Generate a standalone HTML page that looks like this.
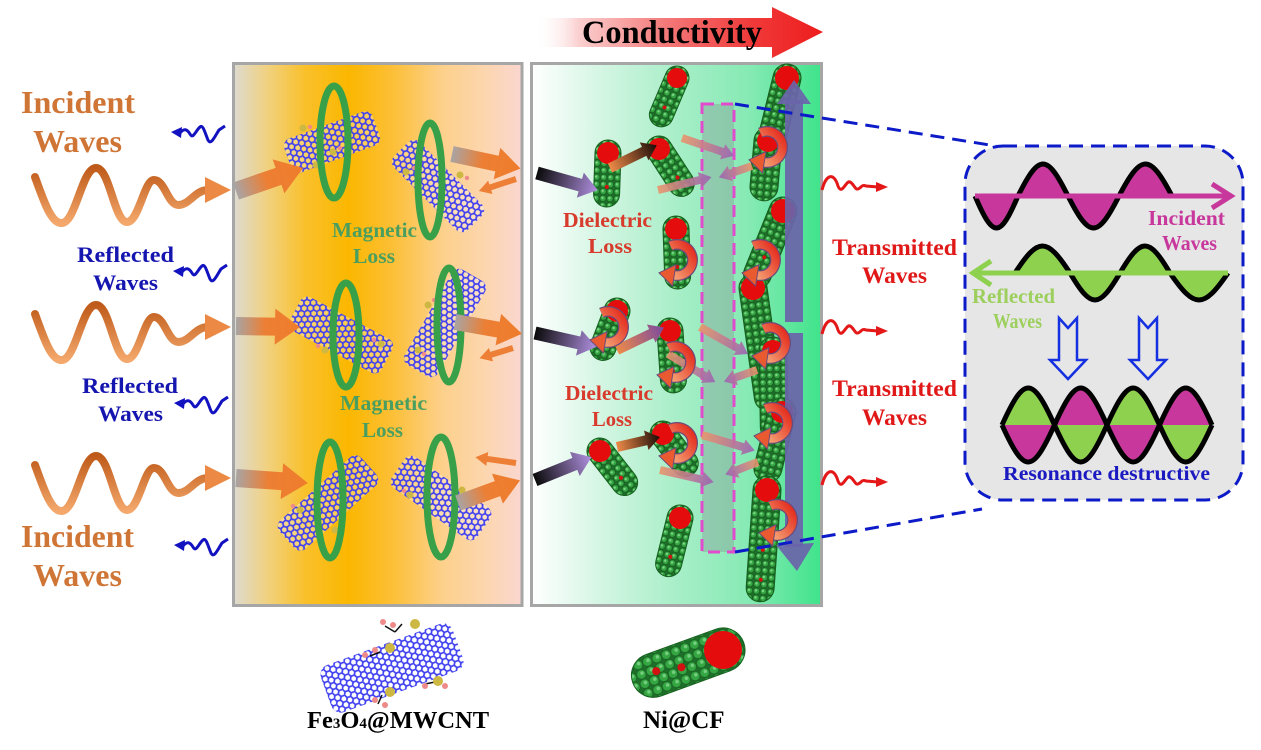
<!DOCTYPE html>
<html><head><meta charset="utf-8"><style>
html,body{margin:0;padding:0;background:#fff;width:1261px;height:750px;overflow:hidden}
svg{display:block}
text{font-family:"Liberation Serif","Times New Roman",serif;font-weight:bold}
</style></head><body>
<svg width="1261" height="750" viewBox="0 0 1261 750" xmlns="http://www.w3.org/2000/svg">
<defs>
<linearGradient id="gL" x1="0" x2="1" y1="0" y2="0">
<stop offset="0" stop-color="#dddad0"/><stop offset="0.12" stop-color="#f1d17e"/><stop offset="0.25" stop-color="#f9c02a"/><stop offset="0.4" stop-color="#fbb700"/><stop offset="0.55" stop-color="#fcbf36"/><stop offset="0.72" stop-color="#fdd08a"/><stop offset="0.88" stop-color="#fcd6b0"/><stop offset="1" stop-color="#fad6d0"/>
</linearGradient>
<linearGradient id="gR" x1="0" x2="1" y1="0" y2="0">
<stop offset="0" stop-color="#ffffff"/><stop offset="0.25" stop-color="#d2f5e2"/><stop offset="0.5" stop-color="#a8eec8"/><stop offset="0.75" stop-color="#86eab4"/><stop offset="0.9" stop-color="#5ce69c"/><stop offset="1" stop-color="#3fe38a"/>
</linearGradient>
<linearGradient id="gCond" gradientUnits="userSpaceOnUse" x1="535" y1="0" x2="823" y2="0">
<stop offset="0" stop-color="#ffffff" stop-opacity="0"/><stop offset="0.15" stop-color="#fbd0d0"/><stop offset="0.45" stop-color="#f47a7a"/><stop offset="0.75" stop-color="#f03a3a"/><stop offset="1" stop-color="#ee1c1c"/>
</linearGradient>
<linearGradient id="gWave" x1="0" y1="0" x2="0" y2="1"><stop offset="0" stop-color="#bf5b1a"/><stop offset="1" stop-color="#f4a86c"/></linearGradient>
<linearGradient id="gOr" x1="0" x2="1"><stop offset="0" stop-color="#a8a4a4"/><stop offset="0.45" stop-color="#ec7f34"/><stop offset="1" stop-color="#ef7c2c"/></linearGradient>
<linearGradient id="gPur" x1="0" x2="1"><stop offset="0" stop-color="#0a0a0a"/><stop offset="1" stop-color="#b090e0"/></linearGradient>
<linearGradient id="gBrn" x1="0" x2="1"><stop offset="0" stop-color="#ee8a48"/><stop offset="1" stop-color="#1a0c08"/></linearGradient>
<linearGradient id="gBrnP" x1="0" x2="1"><stop offset="0" stop-color="#ee8a48"/><stop offset="1" stop-color="#7a4aa0"/></linearGradient>
<linearGradient id="gPk" x1="0" x2="1"><stop offset="0" stop-color="#e9956a"/><stop offset="1" stop-color="#9a62b4"/></linearGradient>
<linearGradient id="gSw" x1="1" y1="0" x2="0" y2="1"><stop offset="0" stop-color="#e3261a"/><stop offset="1" stop-color="#f5a878"/></linearGradient>
<pattern id="hex" width="10.8" height="6.24" patternUnits="userSpaceOnUse">
<path d="M0,3.12 L1.8,0 L5.4,0 L7.2,3.12 L5.4,6.24 L1.8,6.24 Z M7.2,3.12 L10.8,3.12" fill="none" stroke="#3f3ff0" stroke-width="1.7"/>
</pattern>
<pattern id="balls" width="7" height="7" patternUnits="userSpaceOnUse">
<rect width="7" height="7" fill="#1d6e28"/><circle cx="3.5" cy="3.5" r="3.2" fill="#34a642" stroke="#175a20" stroke-width="0.7"/><circle cx="3" cy="3" r="1.2" fill="#7fd588"/>
</pattern>
<pattern id="balls2" width="10" height="10" patternUnits="userSpaceOnUse">
<rect width="10" height="10" fill="#1d6e28"/><circle cx="5" cy="5" r="4.7" fill="#34a642" stroke="#175a20" stroke-width="0.6"/><circle cx="4" cy="4" r="1.8" fill="#76cf80"/>
</pattern>
<g id="sw">
<path d="M-5.5,-11.8 A13,13 0 1 1 -2.3,12.8" stroke="#6a4a7a" stroke-width="9" fill="none"/>
<path d="M-5.5,-11.8 A13,13 0 1 1 -2.3,12.8" stroke="url(#gSw)" stroke-width="7" fill="none"/>
<polygon points="-15,10.7 -0.9,3.9 -3.7,21.7" fill="#ea5a30" stroke="#6a4a7a" stroke-width="0.8"/>
</g>
<g id="bw">
<polygon points="0,0 11,-5 10,6" fill="#1212c0"/>
<path d="M9,1 C13,-4 16,-3 19,2 C22,8 25,-2 29,-5 C32,-8 34,1 37,8 C40,14 44,4 48,-2 L54,-6" stroke="#1212c0" stroke-width="3" fill="none"/>
</g>
<g id="rw">
<path d="M0,3 C4,-13 12,-15 16,-1 C20,9 24,-7 28,-5 C32,-3 33,3 36,2 C39,1 40,-3 44,-1 L56,0" stroke="#e41818" stroke-width="3" fill="none"/>
<polygon points="54,-5 66,0 54,5" fill="#e41818"/>
</g>
<g id="ow">
<path d="M35,177 C45,205 52,224 62,223 C76,222 82,168 96,168 C110,168 114,222 127,222 C139,222 144,180 154,180 C165,180 168,206 179,205 C190,204 195,191 207,190" stroke="url(#gWave)" stroke-width="8" fill="none" stroke-linecap="round"/>
<polygon points="205,177 231,190 205,203" fill="#ec8a45"/>
</g>
</defs>

<!-- Conductivity arrow -->
<polygon points="535,18 772,18 772,7 823,32 772,58 772,47 535,47" fill="url(#gCond)"/>
<text x="582" y="43" font-size="33" fill="#000" textLength="180" lengthAdjust="spacingAndGlyphs">Conductivity</text>

<!-- Panels -->
<rect x="233.5" y="63.5" width="288.5" height="542" fill="url(#gL)" stroke="#a6a6a6" stroke-width="3"/>
<rect x="531.5" y="63.5" width="290" height="542" fill="url(#gR)" stroke="#a6a6a6" stroke-width="3"/>

<!-- Left texts -->
<text x="21" y="113" font-size="32" fill="#cf7636" textLength="114" lengthAdjust="spacingAndGlyphs">Incident</text>
<text x="33" y="152" font-size="32" fill="#cf7636" textLength="89" lengthAdjust="spacingAndGlyphs">Waves</text>
<text x="77" y="262" font-size="22" fill="#1515b0" textLength="97" lengthAdjust="spacingAndGlyphs">Reflected</text>
<text x="93" y="290" font-size="22" fill="#1515b0" textLength="65" lengthAdjust="spacingAndGlyphs">Waves</text>
<text x="82" y="393" font-size="22" fill="#1515b0" textLength="96" lengthAdjust="spacingAndGlyphs">Reflected</text>
<text x="98" y="421" font-size="22" fill="#1515b0" textLength="65" lengthAdjust="spacingAndGlyphs">Waves</text>
<text x="21" y="547" font-size="32" fill="#cf7636" textLength="113" lengthAdjust="spacingAndGlyphs">Incident</text>
<text x="33" y="586" font-size="32" fill="#cf7636" textLength="89" lengthAdjust="spacingAndGlyphs">Waves</text>

<!-- Orange waves -->
<use href="#ow"/>
<use href="#ow" transform="translate(0,137)"/>
<use href="#ow" transform="translate(0,288)"/>
<!-- Blue small waves -->
<use href="#bw" transform="translate(171,132)"/>
<use href="#bw" transform="translate(173,271)"/>
<use href="#bw" transform="translate(174,403)"/>
<use href="#bw" transform="translate(174,545)"/>

<!-- Nanotubes left panel -->
<g transform="translate(332,142) rotate(-20)"><rect x="-47" y="-18" width="94" height="36" rx="8" fill="#ffffff" fill-opacity="0.3"/><rect x="-47" y="-18" width="94" height="36" rx="8" fill="url(#hex)"/></g>
<g transform="translate(438,186) rotate(45)"><rect x="-52" y="-18" width="104" height="36" rx="8" fill="#ffffff" fill-opacity="0.3"/><rect x="-52" y="-18" width="104" height="36" rx="8" fill="url(#hex)"/></g>
<g transform="translate(341,335) rotate(28)"><rect x="-52" y="-19" width="104" height="38" rx="8" fill="#ffffff" fill-opacity="0.3"/><rect x="-52" y="-19" width="104" height="38" rx="8" fill="url(#hex)"/></g>
<g transform="translate(445,323) rotate(-60)"><rect x="-55" y="-19" width="110" height="38" rx="8" fill="#ffffff" fill-opacity="0.3"/><rect x="-55" y="-19" width="110" height="38" rx="8" fill="url(#hex)"/></g>
<g transform="translate(328,503) rotate(-42)"><rect x="-55" y="-19" width="110" height="38" rx="8" fill="#ffffff" fill-opacity="0.3"/><rect x="-55" y="-19" width="110" height="38" rx="8" fill="url(#hex)"/></g>
<g transform="translate(441,498) rotate(35)"><rect x="-52" y="-19" width="104" height="38" rx="8" fill="#ffffff" fill-opacity="0.3"/><rect x="-52" y="-19" width="104" height="38" rx="8" fill="url(#hex)"/></g>
<!-- decorations -->
<g fill="#cdb843">
<circle cx="303" cy="128" r="3.5"/><circle cx="333" cy="152" r="3.5"/><circle cx="316" cy="165" r="3.5"/>
<circle cx="406" cy="172" r="3.5"/><circle cx="460" cy="175" r="3.5"/>
<circle cx="381" cy="344" r="3.5"/><circle cx="325" cy="350" r="3.5"/>
<circle cx="428" cy="305" r="3.5"/><circle cx="418" cy="350" r="3.5"/>
<circle cx="300" cy="510" r="3.5"/><circle cx="335" cy="530" r="3.5"/>
<circle cx="410" cy="495" r="3.5"/><circle cx="462" cy="490" r="3.5"/>
</g>
<g fill="#ef8a8a">
<circle cx="310" cy="127" r="2.2"/><circle cx="340" cy="148" r="2.2"/><circle cx="323" cy="166" r="2.2"/><circle cx="414" cy="168" r="2.2"/><circle cx="467" cy="178" r="2.2"/>
<circle cx="374" cy="340" r="2.2"/><circle cx="318" cy="346" r="2.2"/><circle cx="434" cy="300" r="2.2"/><circle cx="424" cy="354" r="2.2"/>
<circle cx="293" cy="506" r="2.2"/><circle cx="342" cy="527" r="2.2"/><circle cx="404" cy="491" r="2.2"/><circle cx="468" cy="494" r="2.2"/>
</g>
<!-- rings -->
<g fill="none" stroke="#38a048" stroke-width="7">
<ellipse cx="334" cy="142" rx="14" ry="56"/>
<ellipse cx="430" cy="180" rx="12" ry="57"/>
<ellipse cx="346" cy="335" rx="13" ry="52"/>
<ellipse cx="449" cy="325" rx="12" ry="57"/>
<ellipse cx="330" cy="500" rx="13" ry="58"/>
<ellipse cx="441" cy="497" rx="14" ry="60"/>
</g>

<!-- Left panel arrows -->
<polygon transform="translate(236,191) rotate(-19)" points="0,-9 45,-9 45,-18 71,0 45,18 45,9 0,9" fill="url(#gOr)"/>
<polygon transform="translate(452,154) rotate(12)" points="0,-8 46,-8 46,-16 70,0 46,16 46,8 0,8" fill="url(#gOr)"/>
<polygon transform="translate(516,179) rotate(162)" points="0,-3 27,-3 27,-7 39,0 27,7 27,3 0,3" fill="#ee7f36"/>
<polygon transform="translate(236,326) rotate(1)" points="0,-9 39,-9 39,-18 64,0 39,18 39,9 0,9" fill="url(#gOr)"/>
<polygon transform="translate(455,322) rotate(10)" points="0,-8 44,-8 44,-16 68,0 44,16 44,8 0,8" fill="url(#gOr)"/>
<polygon transform="translate(513,348) rotate(163)" points="0,-3 23,-3 23,-7 35,0 23,7 23,3 0,3" fill="#ee7f36"/>
<polygon transform="translate(236,478) rotate(4)" points="0,-9 46,-9 46,-18 72,0 46,18 46,9 0,9" fill="url(#gOr)"/>
<polygon transform="translate(458,503) rotate(-20)" points="0,-8 42,-8 42,-16 66,0 42,16 42,8 0,8" fill="url(#gOr)"/>
<polygon transform="translate(516,463) rotate(188)" points="0,-3 29,-3 29,-7 41,0 29,7 29,3 0,3" fill="#ee7f36"/>

<text x="332" y="237" font-size="21" fill="#4a9f60" textLength="85" lengthAdjust="spacingAndGlyphs">Magnetic</text>
<text x="353" y="263" font-size="21" fill="#4a9f60" textLength="42" lengthAdjust="spacingAndGlyphs">Loss</text>
<text x="340" y="410" font-size="21" fill="#4a9f60" textLength="87" lengthAdjust="spacingAndGlyphs">Magnetic</text>
<text x="362" y="437" font-size="21" fill="#4a9f60" textLength="41" lengthAdjust="spacingAndGlyphs">Loss</text>

<!-- Rods right panel -->
<g stroke="#17601f" stroke-width="1">
<g transform="translate(677,78) rotate(23)"><rect x="-12" y="-12" width="24" height="64" rx="12" fill="url(#balls)"/><circle r="10" fill="#e40c0c" stroke="none"/><circle cy="32" r="2" fill="#d31111" stroke="none"/></g>
<g transform="translate(608,153) rotate(2)"><rect x="-13" y="-13" width="26" height="67" rx="13" fill="url(#balls)"/><circle r="11" fill="#e40c0c" stroke="none"/><circle cy="34" r="2" fill="#d31111" stroke="none"/></g>
<g transform="translate(659,149) rotate(-33)"><rect x="-13" y="-13" width="26" height="67" rx="13" fill="url(#balls)"/><circle r="11" fill="#e40c0c" stroke="none"/><circle cy="34" r="2" fill="#d31111" stroke="none"/></g>
<g transform="translate(676,229) rotate(-2)"><rect x="-13" y="-13" width="26" height="73" rx="13" fill="url(#balls)"/><circle r="11" fill="#e40c0c" stroke="none"/><circle cy="38" r="2" fill="#d31111" stroke="none"/></g>
<g transform="translate(617,311) rotate(21)"><rect x="-13" y="-13" width="26" height="65" rx="13" fill="url(#balls)"/><circle r="11" fill="#e40c0c" stroke="none"/><circle cy="34" r="2" fill="#d31111" stroke="none"/></g>
<g transform="translate(670,331) rotate(-4)"><rect x="-13" y="-13" width="26" height="75" rx="13" fill="url(#balls)"/><circle r="11" fill="#e40c0c" stroke="none"/><circle cy="40" r="2" fill="#d31111" stroke="none"/></g>
<g transform="translate(663,434) rotate(-37)"><rect x="-13" y="-13" width="26" height="63" rx="13" fill="url(#balls)"/><circle r="11" fill="#e40c0c" stroke="none"/><circle cy="32" r="2" fill="#d31111" stroke="none"/></g>
<g transform="translate(600,451) rotate(-38)"><rect x="-13" y="-13" width="26" height="66" rx="13" fill="url(#balls)"/><circle r="11" fill="#e40c0c" stroke="none"/><circle cy="34" r="2" fill="#d31111" stroke="none"/></g>
<g transform="translate(680,518) rotate(14)"><rect x="-13" y="-13" width="26" height="73" rx="13" fill="url(#balls)"/><circle r="11" fill="#e40c0c" stroke="none"/><circle cy="40" r="2" fill="#d31111" stroke="none"/></g>
<g transform="translate(787,78) rotate(14)"><rect x="-14" y="-14" width="28" height="118" rx="14" fill="url(#balls)"/><circle r="12" fill="#e40c0c" stroke="none"/><circle cy="60" r="2" fill="#d31111" stroke="none"/></g>
<g transform="translate(768,141) rotate(5)"><rect x="-14" y="-14" width="28" height="74" rx="14" fill="url(#balls)"/><circle r="11" fill="#e40c0c" stroke="none"/></g>
<g transform="translate(783,211) rotate(22)"><rect x="-14" y="-14" width="28" height="96" rx="14" fill="url(#balls)"/><circle r="12" fill="#e40c0c" stroke="none"/><circle cy="50" r="2" fill="#d31111" stroke="none"/></g>
<g transform="translate(753,288) rotate(-8)"><rect x="-14" y="-14" width="28" height="138" rx="14" fill="url(#balls)"/><circle r="12" fill="#e40c0c" stroke="none"/><circle cy="70" r="2" fill="#d31111" stroke="none"/></g>
<g transform="translate(773,351) rotate(-1)"><rect x="-14" y="-14" width="28" height="104" rx="14" fill="url(#balls)"/><circle r="11" fill="#e40c0c" stroke="none"/></g>
<g transform="translate(782,412) rotate(14)"><rect x="-14" y="-14" width="28" height="86" rx="14" fill="url(#balls)"/><circle r="11" fill="#e40c0c" stroke="none"/></g>
<g transform="translate(767,490) rotate(4)"><rect x="-14" y="-14" width="28" height="126" rx="14" fill="url(#balls)"/><circle r="12" fill="#e40c0c" stroke="none"/><circle cy="60" r="2" fill="#d31111" stroke="none"/><circle cy="90" r="2" fill="#d31111" stroke="none"/></g>
</g>

<!-- Pink dashed strip -->
<rect x="702" y="104" width="32" height="448" fill="#82828c" fill-opacity="0.32" stroke="#e04ccc" stroke-width="3" stroke-dasharray="12 7"/>

<!-- Purple vertical arrow -->
<g fill="#6a64aa" fill-opacity="0.92">
<rect x="785" y="100" width="18" height="222"/>
<polygon points="777,104 794,80 811,104"/>
<rect x="785" y="333" width="18" height="214"/>
<polygon points="776,545 797,571 814,543"/>
</g>

<!-- Right panel arrows -->
<polygon transform="translate(537,173) rotate(15.6)" points="0,-6.5 45,-6.5 45,-13 63,0 45,13 45,6.5 0,6.5" fill="url(#gPur)"/>
<polygon transform="translate(535,333) rotate(12.7)" points="0,-6.5 45,-6.5 45,-13 63,0 45,13 45,6.5 0,6.5" fill="url(#gPur)"/>
<polygon transform="translate(535,480) rotate(-22)" points="0,-6.5 43,-6.5 43,-13 61,0 43,13 43,6.5 0,6.5" fill="url(#gPur)"/>
<polygon transform="translate(610,168) rotate(-26)" points="0,-5 38,-5 38,-10 52,0 38,10 38,5 0,5" fill="url(#gBrn)"/>
<polygon transform="translate(617,350) rotate(-25.6)" points="0,-5 38,-5 38,-10 52,0 38,10 38,5 0,5" fill="url(#gBrnP)"/>
<polygon transform="translate(617,447) rotate(-13)" points="0,-5 30,-5 30,-10 44,0 30,10 30,5 0,5" fill="url(#gBrn)"/>
<g fill="url(#gPk)" fill-opacity="0.9">
<polygon transform="translate(682,138) rotate(18.8)" points="0,-4 43,-4 43,-8 55,0 43,8 43,4 0,4"/>
<polygon transform="translate(658,190) rotate(-13.5)" points="0,-4 43,-4 43,-8 55,0 43,8 43,4 0,4"/>
<polygon transform="translate(752,166) rotate(161)" points="0,-4 23,-4 23,-8 35,0 23,8 23,4 0,4"/>
<polygon transform="translate(700,327) rotate(29.4)" points="0,-4 43,-4 43,-8 55,0 43,8 43,4 0,4"/>
<polygon transform="translate(668,354) rotate(30.8)" points="0,-4 43,-4 43,-8 55,0 43,8 43,4 0,4"/>
<polygon transform="translate(757,370) rotate(160.6)" points="0,-4 23,-4 23,-8 35,0 23,8 23,4 0,4"/>
<polygon transform="translate(702,435) rotate(16.4)" points="0,-4 43,-4 43,-8 55,0 43,8 43,4 0,4"/>
<polygon transform="translate(660,470) rotate(12.8)" points="0,-4 43,-4 43,-8 55,0 43,8 43,4 0,4"/>
<polygon transform="translate(758,462) rotate(159)" points="0,-4 23,-4 23,-8 35,0 23,8 23,4 0,4"/>
</g>

<!-- Swirls -->
<use href="#sw" transform="translate(767,147) scale(1.2)"/>
<use href="#sw" transform="translate(677,260) scale(1.2)"/>
<use href="#sw" transform="translate(760,260) scale(1.2)"/>
<use href="#sw" transform="translate(608,327) scale(1.2)"/>
<use href="#sw" transform="translate(675,362) scale(1.2)"/>
<use href="#sw" transform="translate(770,343) scale(1.2)"/>
<use href="#sw" transform="translate(677,443) scale(1.2)"/>
<use href="#sw" transform="translate(772,423) scale(1.2)"/>
<use href="#sw" transform="translate(777,520) scale(1.2)"/>

<text x="563" y="227" font-size="21" fill="#d83a2c" textLength="89" lengthAdjust="spacingAndGlyphs">Dielectric</text>
<text x="588" y="253" font-size="21" fill="#d83a2c" textLength="44" lengthAdjust="spacingAndGlyphs">Loss</text>
<text x="565" y="400" font-size="21" fill="#d83a2c" textLength="88" lengthAdjust="spacingAndGlyphs">Dielectric</text>
<text x="592" y="426" font-size="21" fill="#d83a2c" textLength="40" lengthAdjust="spacingAndGlyphs">Loss</text>

<!-- Transmitted -->
<use href="#rw" transform="translate(822,187)"/>
<use href="#rw" transform="translate(822,331)"/>
<use href="#rw" transform="translate(822,482)"/>
<text x="832" y="255" font-size="23" fill="#e01818" textLength="125" lengthAdjust="spacingAndGlyphs">Transmitted</text>
<text x="862" y="283" font-size="23" fill="#e01818" textLength="65" lengthAdjust="spacingAndGlyphs">Waves</text>
<text x="832" y="396" font-size="23" fill="#e01818" textLength="125" lengthAdjust="spacingAndGlyphs">Transmitted</text>
<text x="862" y="425" font-size="23" fill="#e01818" textLength="65" lengthAdjust="spacingAndGlyphs">Waves</text>

<!-- Dashed connectors and box -->
<line x1="735" y1="104" x2="996" y2="146" stroke="#0c1ac8" stroke-width="3" stroke-dasharray="14 8"/>
<line x1="735" y1="552" x2="982" y2="509" stroke="#0c1ac8" stroke-width="3" stroke-dasharray="14 8"/>
<rect x="965" y="146" width="278" height="354" rx="38" fill="#e6e6e6" stroke="#0c1ac8" stroke-width="3" stroke-dasharray="14 8"/>

<!-- Incident wave in box -->
<path d="M975,196 C993.2,238.7 999.8,238.7 1018,196 C1039.2,153.3 1046.8,153.3 1068,196 C1089.6,238.7 1097.4,238.7 1119,196 C1141.5,153.3 1149.5,153.3 1172,196 Z" fill="#c8389c"/>
<path d="M975,196 C993.2,238.7 999.8,238.7 1018,196 C1039.2,153.3 1046.8,153.3 1068,196 C1089.6,238.7 1097.4,238.7 1119,196 C1141.5,153.3 1149.5,153.3 1172,196" fill="none" stroke="#000" stroke-width="5"/>
<line x1="975" y1="196" x2="1229" y2="196" stroke="#c8389c" stroke-width="5"/>
<polyline points="1212,184 1231,196 1212,208" fill="none" stroke="#c8389c" stroke-width="5"/>
<text x="1148" y="225" font-size="21" fill="#c8389c" textLength="77" lengthAdjust="spacingAndGlyphs">Incident</text>
<text x="1162" y="250" font-size="21" fill="#c8389c" textLength="55" lengthAdjust="spacingAndGlyphs">Waves</text>

<!-- Reflected wave in box -->
<path d="M1015,273 C1038.3,237 1046.7,237 1070,273 C1091.2,309 1098.8,309 1120,273 C1141.2,237 1148.8,237 1170,273 C1194.6,309 1203.4,309 1228,273 Z" fill="#8ed14e"/>
<path d="M1015,273 C1038.3,237 1046.7,237 1070,273 C1091.2,309 1098.8,309 1120,273 C1141.2,237 1148.8,237 1170,273 C1194.6,309 1203.4,309 1228,273" fill="none" stroke="#000" stroke-width="5"/>
<line x1="1228" y1="273" x2="975" y2="273" stroke="#8ed14e" stroke-width="5"/>
<polyline points="991,261 973,273 991,285" fill="none" stroke="#8ed14e" stroke-width="5"/>
<text x="972" y="303" font-size="21" fill="#9ccf5c" textLength="83" lengthAdjust="spacingAndGlyphs">Reflected</text>
<text x="993" y="328" font-size="21" fill="#9ccf5c" textLength="49" lengthAdjust="spacingAndGlyphs">Waves</text>

<!-- hollow arrows -->
<polygon points="1059,318 1068,328 1077,318 1077,360 1086,360 1068,379 1050,360 1059,360" fill="none" stroke="#1530e0" stroke-width="2.5"/>
<polygon points="1139,318 1148,328 1157,318 1157,360 1166,360 1148,379 1130,360 1139,360" fill="none" stroke="#1530e0" stroke-width="2.5"/>

<!-- combined -->
<path d="M1002,425 C1024.3,375.7 1032.2,375.7 1054.5,425 Z" fill="#8ed14e"/>
<path d="M1002,425 C1024.3,474.3 1032.2,474.3 1054.5,425 Z" fill="#c8389c"/>
<path d="M1054.5,425 C1076.8,375.7 1084.7,375.7 1107,425 Z" fill="#c8389c"/>
<path d="M1054.5,425 C1076.8,474.3 1084.7,474.3 1107,425 Z" fill="#8ed14e"/>
<path d="M1107,425 C1129.3,375.7 1137.2,375.7 1159.5,425 Z" fill="#8ed14e"/>
<path d="M1107,425 C1129.3,474.3 1137.2,474.3 1159.5,425 Z" fill="#c8389c"/>
<path d="M1159.5,425 C1181.8,375.7 1189.7,375.7 1212,425 Z" fill="#c8389c"/>
<path d="M1159.5,425 C1181.8,474.3 1189.7,474.3 1212,425 Z" fill="#8ed14e"/>
<path d="M1002,425 C1024.3,375.7 1032.2,375.7 1054.5,425 C1076.8,474.3 1084.7,474.3 1107,425 C1129.3,375.7 1137.2,375.7 1159.5,425 C1181.8,474.3 1189.7,474.3 1212,425" fill="none" stroke="#000" stroke-width="5"/>
<path d="M1002,425 C1024.3,474.3 1032.2,474.3 1054.5,425 C1076.8,375.7 1084.7,375.7 1107,425 C1129.3,474.3 1137.2,474.3 1159.5,425 C1181.8,375.7 1189.7,375.7 1212,425" fill="none" stroke="#000" stroke-width="5"/>
<text x="1003" y="480" font-size="20" fill="#1a1ac0" textLength="207" lengthAdjust="spacingAndGlyphs">Resonance destructive</text>

<!-- Bottom icons -->
<g transform="translate(392,668) rotate(-20)"><rect x="-70" y="-25" width="140" height="50" rx="10" fill="#ffffff" fill-opacity="0.4"/><rect x="-70" y="-25" width="140" height="50" rx="10" fill="url(#hex)"/></g>
<g stroke="#111" stroke-width="1.5"><line x1="402" y1="624" x2="395" y2="632"/><line x1="395" y1="632" x2="385" y2="626"/><line x1="380" y1="652" x2="370" y2="656"/><line x1="425" y1="684" x2="435" y2="682"/><line x1="382" y1="695" x2="378" y2="704"/></g>
<g fill="#cdb843"><circle cx="415" cy="624" r="5"/><circle cx="390" cy="648" r="5"/><circle cx="438" cy="681" r="5"/><circle cx="390" cy="692" r="5"/></g>
<g fill="#ef8a8a"><circle cx="393" cy="625" r="3"/><circle cx="383" cy="622" r="3"/><circle cx="365" cy="655" r="3"/><circle cx="375" cy="650" r="3"/><circle cx="425" cy="686" r="3"/><circle cx="445" cy="686" r="3"/><circle cx="375" cy="700" r="3"/><circle cx="385" cy="705" r="3"/></g>

<g transform="translate(723,650) rotate(70)"><rect x="-22" y="-22" width="44" height="118" rx="22" fill="url(#balls2)" stroke="#17601f" stroke-width="1"/><circle r="19" fill="#e40c0c"/><circle cx="2" cy="45" r="4" fill="#d31111"/><circle cx="-3" cy="70" r="4" fill="#d31111"/></g>

<text x="307" y="728" font-size="24.5" fill="#000">Fe<tspan font-size="15">3</tspan>O<tspan font-size="15">4</tspan>@MWCNT</text>
<text x="643" y="728" font-size="25" fill="#000">Ni@CF</text>
</svg>
</body></html>
